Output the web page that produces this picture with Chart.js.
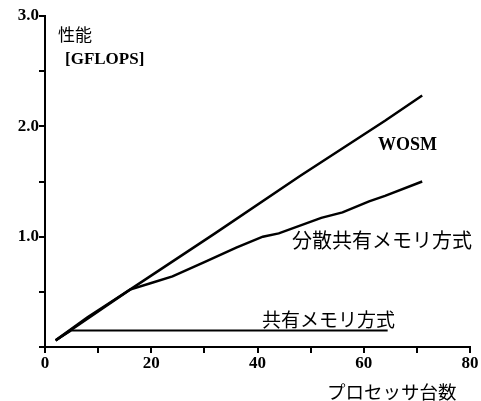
<!DOCTYPE html>
<html>
<head>
<meta charset="utf-8">
<script src="https://cdn.jsdelivr.net/npm/chart.js@4.4.1/dist/chart.umd.min.js"></script>
<style>
body { margin: 0; background: #fff; }
</style>
</head>
<body>
<canvas id="perf-chart" width="481" height="401"></canvas>
<script>
// processors vs GFLOPS
const wosmProcs = [2, 16, 32, 48, 64, 71];
const wosmPerf = [0.06, 0.52, 1.03, 1.55, 2.05, 2.28];

const dsmProcs = [2, 8, 16, 20, 24, 30, 36, 41, 44, 52, 56, 61, 64, 71];
const dsmPerf = [0.06, 0.27, 0.52, 0.58, 0.64, 0.77, 0.9, 1.0, 1.03, 1.17, 1.22, 1.32, 1.37, 1.5];

const smProcs = [2, 5, 64.5];
const smPerf = [0.06, 0.15, 0.15];

const xLabelTicks = [0, 20, 40, 60, 80];
const yLabelTicks = [1, 2, 3];

const seriesNames = ['WOSM', '分散共有メモリ方式', '共有メモリ方式'];
const yTitle = ['性能', '[GFLOPS]'];
const xTitle = 'プロセッサ台数';

const serif = '"Liberation Serif", "DejaVu Serif", serif';
const jp = '"Noto Sans CJK JP", sans-serif';

function toPoints(xs, ys) {
    return xs.map((x, i) => ({ x: x, y: ys[i] }));
}

const textPlugin = {
    id: 'textLabels',
    afterDraw(chart) {
        const ctx = chart.ctx;
        const area = chart.chartArea;
        ctx.save();
        ctx.fillStyle = '#000';
        ctx.textBaseline = 'middle';
        ctx.textAlign = 'left';

        ctx.font = '17px ' + jp;
        ctx.fillText(yTitle[0], area.left + 13, 35);
        ctx.font = 'bold 17px ' + serif;
        ctx.fillText(yTitle[1], area.left + 20, 60);

        ctx.font = 'bold 18px ' + serif;
        ctx.fillText(seriesNames[0], 378, 145);
        ctx.font = '20px ' + jp;
        ctx.fillText(seriesNames[1], 292, 240);
        ctx.font = '19px ' + jp;
        ctx.fillText(seriesNames[2], 262, 320);

        ctx.font = '18.5px ' + jp;
        ctx.fillText(xTitle, 327, 392);
        ctx.restore();
    }
};

const lineStyle = {
    borderColor: '#000',
    borderWidth: 2.5,
    pointRadius: 0,
    tension: 0,
    fill: false,
    showLine: true
};

new Chart(document.getElementById('perf-chart'), {
    type: 'scatter',
    data: {
        datasets: [
            Object.assign({ label: seriesNames[0], data: toPoints(wosmProcs, wosmPerf) }, lineStyle),
            Object.assign({ label: seriesNames[1], data: toPoints(dsmProcs, dsmPerf) }, lineStyle),
            Object.assign({ label: seriesNames[2], data: toPoints(smProcs, smPerf) }, lineStyle, { borderWidth: 2 })
        ]
    },
    options: {
        responsive: false,
        animation: false,
        layout: { padding: { top: 16, right: 11, left: 0, bottom: 0 } },
        plugins: {
            legend: { display: false },
            tooltip: { enabled: false }
        },
        scales: {
            x: {
                type: 'linear',
                min: 0,
                max: 80,
                afterFit(scale) { scale.height = 54; },
                border: { color: '#000', width: 2 },
                grid: { drawOnChartArea: false, color: '#000', lineWidth: 2, tickLength: 6 },
                ticks: {
                    stepSize: 10,
                    padding: 0,
                    color: '#000',
                    font: { family: serif, size: 17, weight: 'bold' },
                    callback: v => xLabelTicks.includes(v) ? String(v) : ''
                }
            },
            y: {
                min: 0,
                max: 3,
                afterFit(scale) { scale.width = 45; },
                border: { color: '#000', width: 2 },
                grid: { drawOnChartArea: false, color: '#000', lineWidth: 2, tickLength: 6 },
                ticks: {
                    stepSize: 0.5,
                    padding: 0,
                    color: '#000',
                    font: { family: serif, size: 17, weight: 'bold' },
                    callback: v => yLabelTicks.includes(v) ? v.toFixed(1) : ''
                }
            }
        }
    },
    plugins: [textPlugin]
});
</script>
</body>
</html>
